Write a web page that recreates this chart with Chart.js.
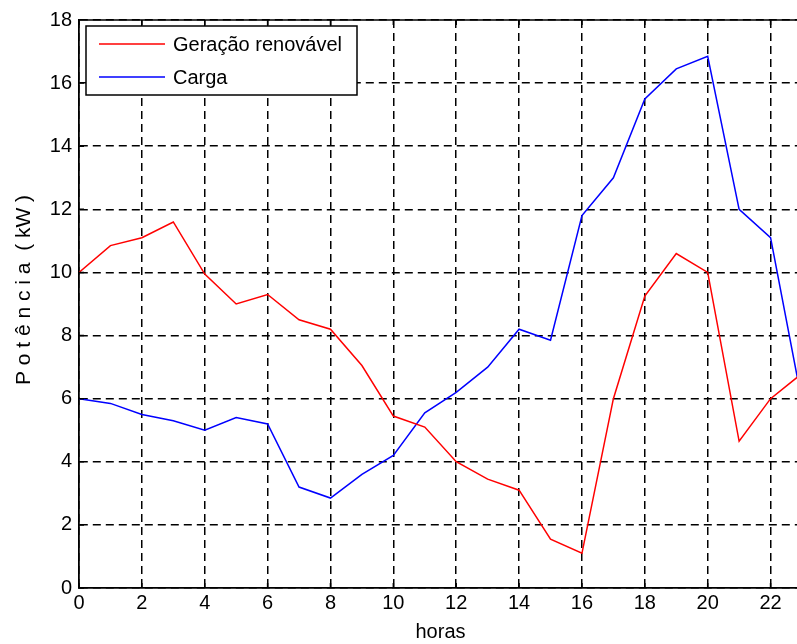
<!DOCTYPE html>
<html>
<head>
<meta charset="utf-8">
<style>
body { margin: 0; overflow: hidden; background: #fff; }
#box { width: 802px; height: 644px; }
</style>
</head>
<body>
<div id="box">
<canvas id="myChart" width="802" height="644"></canvas>
</div>

<script src="https://cdn.jsdelivr.net/npm/chart.js"></script>
<script>
// hourly profile, 0..23 h
var horas = [0,1,2,3,4,5,6,7,8,9,10,11,12,13,14,15,16,17,18,19,20,21,22,23];
var geracao = [10.0,10.85,11.1,11.6,9.95,9.0,9.3,8.5,8.2,7.05,5.45,5.1,4.0,3.45,3.1,1.55,1.1,6.0,9.25,10.6,10.0,4.65,6.0,6.8];
var carga = [6.0,5.85,5.5,5.3,5.0,5.4,5.2,3.2,2.85,3.6,4.2,5.55,6.2,7.0,8.2,7.85,11.8,13.0,15.5,16.45,16.85,12.0,11.1,5.9];

var xTicks = [0,2,4,6,8,10,12,14,16,18,20,22];
var yTicks = [0,2,4,6,8,10,12,14,16,18];
var yTitle = 'P o t ê n c i a  ( kW )';

var FONT = {family: "'Liberation Sans', Arial, sans-serif", size: 20};

function toPoints(values){
	var pts = [];
	for(var i = 0; i < horas.length; i++){
		pts.push({x: horas[i], y: values[i]});
	}
	return pts;
}

// frame on top, small inward ticks and the vertical axis title
var framePlugin = {
	id: 'frame',
	afterDraw: function(chart){
		var ctx = chart.ctx;
		var a = chart.chartArea;
		var sx = chart.scales.x, sy = chart.scales.y;
		ctx.save();
		ctx.strokeStyle = '#000';
		ctx.lineWidth = 1.5;
		ctx.setLineDash([]);
		ctx.beginPath();
		ctx.moveTo(a.left, a.top);
		ctx.lineTo(a.right, a.top);
		for(var i = 0; i < xTicks.length; i++){
			var px = sx.getPixelForValue(xTicks[i]);
			ctx.moveTo(px, a.bottom); ctx.lineTo(px, a.bottom - 5);
			ctx.moveTo(px, a.top); ctx.lineTo(px, a.top + 5);
		}
		for(var j = 0; j < yTicks.length; j++){
			var py = sy.getPixelForValue(yTicks[j]);
			ctx.moveTo(a.left, py); ctx.lineTo(a.left + 5, py);
		}
		ctx.stroke();

		// title sits a little above the middle of the axis
		ctx.translate(24, (a.top + a.bottom) / 2 - 14);
		ctx.rotate(-Math.PI / 2);
		ctx.font = '21px ' + FONT.family;
		ctx.fillStyle = '#000';
		ctx.textAlign = 'center';
		ctx.textBaseline = 'middle';
		ctx.fillText(yTitle, 0, 0);
		ctx.restore();
	}
};

// boxed legend in the upper left corner of the plot
var legendPlugin = {
	id: 'boxLegend',
	afterDatasetsDraw: function(chart){
		var ctx = chart.ctx;
		var a = chart.chartArea;
		var x0 = a.left + 7, y0 = a.top + 6, w = 271, h = 69;
		ctx.save();
		ctx.fillStyle = '#fff';
		ctx.fillRect(x0, y0, w, h);
		ctx.strokeStyle = '#000';
		ctx.lineWidth = 1.5;
		ctx.strokeRect(x0, y0, w, h);
		ctx.font = FONT.size + 'px ' + FONT.family;
		ctx.textBaseline = 'middle';
		var ds = chart.data.datasets;
		for(var i = 0; i < ds.length; i++){
			var ly = y0 + 18 + i * 33;
			ctx.strokeStyle = ds[i].borderColor;
			ctx.lineWidth = 1.5;
			ctx.beginPath();
			ctx.moveTo(x0 + 13, ly);
			ctx.lineTo(x0 + 79, ly);
			ctx.stroke();
			ctx.fillStyle = '#000';
			ctx.fillText(ds[i].label, x0 + 87, ly + 1);
		}
		ctx.restore();
	}
};

var ctx = document.getElementById('myChart').getContext('2d');
var myChart = new Chart(ctx, {
	type: 'line',
	data: {
		datasets: [{
			label: 'Geração renovável',
			data: toPoints(geracao),
			borderColor: '#ff0000',
			borderWidth: 1.5,
			pointRadius: 0,
			tension: 0,
			fill: false
		}, {
			label: 'Carga',
			data: toPoints(carga),
			borderColor: '#0000ff',
			borderWidth: 1.5,
			pointRadius: 0,
			tension: 0,
			fill: false
		}]
	},
	options: {
		animation: false,
		responsive: false,
		layout: { padding: { top: 20, left: 0, right: 0, bottom: 0 } },
		plugins: {
			legend: { display: false },
			tooltip: { enabled: false }
		},
		scales: {
			x: {
				type: 'linear',
				min: 0,
				max: 23,
				afterBuildTicks: function(scale){
					scale.ticks = xTicks.map(function(v){ return {value: v}; });
				},
				afterFit: function(scale){ scale.height = 56; },
				ticks: { color: '#000', font: FONT, padding: 3, maxRotation: 0, autoSkip: false },
				grid: { color: '#000', lineWidth: 1.5, drawTicks: false },
				border: { display: true, color: '#000', width: 1.8, dash: [8, 5] },
				title: { display: true, text: 'horas', color: '#000', font: FONT, padding: { top: 0, bottom: 0 } }
			},
			y: {
				min: 0,
				max: 18,
				afterBuildTicks: function(scale){
					scale.ticks = yTicks.map(function(v){ return {value: v}; });
				},
				afterFit: function(scale){ scale.width = 79; },
				ticks: { color: '#000', font: FONT, padding: 7 },
				grid: { color: '#000', lineWidth: 1.5, drawTicks: false },
				border: { display: true, color: '#000', width: 1.8, dash: [8, 5] }
			}
		}
	},
	plugins: [framePlugin, legendPlugin]
});
</script>
</body>
</html>
